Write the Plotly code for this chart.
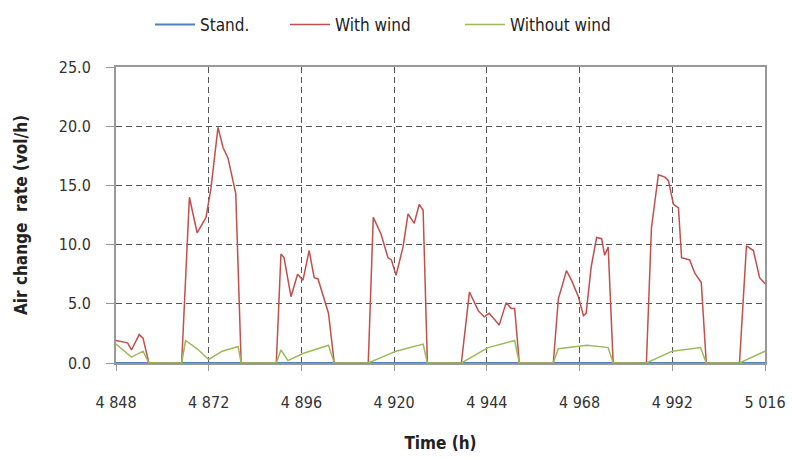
import plotly.graph_objects as go

# ---- data ----
x_ticks = [4848, 4872, 4896, 4920, 4944, 4968, 4992, 5016]
x_tick_labels = ["4 848", "4 872", "4 896", "4 920", "4 944", "4 968", "4 992", "5 016"]
y_ticks = [0, 5, 10, 15, 20, 25]
y_tick_labels = ["0.0", "5.0", "10.0", "15.0", "20.0", "25.0"]

stand_t = [4848, 5016]
stand_v = [0.0, 0.0]

wind_t = [4848, 4851, 4852, 4854, 4855, 4856.5, 4865,
          4867, 4869, 4871.3, 4872.6, 4874.4, 4875.7, 4877, 4879, 4880.4, 4889.5,
          4890.7, 4891.5, 4893.3, 4895, 4896.4, 4898, 4899.3, 4900.3, 4903, 4904.5, 4913.3,
          4914.6, 4916.6, 4918.4, 4919.3, 4920.5, 4922.3, 4923.6, 4925.2, 4926.5, 4927.5, 4928.6, 4937.4,
          4939.5, 4941.8, 4943.3, 4944.6, 4947.2, 4949, 4950.3, 4951.2, 4952.4, 4961.2,
          4962.5, 4964.6, 4965.9, 4967.7, 4969, 4969.7, 4971, 4972.4, 4973.7, 4974.5, 4975.4, 4976.7, 4985.3,
          4986.6, 4988.4, 4990.1, 4991, 4992.3, 4993.6, 4994.4, 4996.5, 4997.8, 4999.5, 5000.8, 5009.4,
          5011.2, 5013, 5014.6, 5016]
wind_v = [1.9, 1.7, 1.1, 2.4, 2.1, 0.0, 0.0,
          14.0, 11.0, 12.3, 14.8, 19.9, 18.2, 17.3, 14.3, 0.0, 0.0,
          9.2, 8.9, 5.6, 7.5, 7.0, 9.5, 7.2, 7.1, 4.2, 0.0, 0.0,
          12.3, 10.9, 8.9, 8.7, 7.4, 9.8, 12.6, 11.8, 13.4, 12.9, 0.0, 0.0,
          6.0, 4.4, 3.9, 4.2, 3.2, 5.1, 4.6, 4.6, 0.0, 0.0,
          5.4, 7.8, 7.0, 5.6, 4.0, 4.2, 8.1, 10.6, 10.5, 9.1, 9.8, 0.0, 0.0,
          11.4, 15.9, 15.7, 15.4, 13.4, 13.1, 8.9, 8.7, 7.6, 6.8, 0.0, 0.0,
          9.9, 9.5, 7.2, 6.7]

nowind_t = [4848, 4852, 4855, 4856.5, 4865, 4866, 4869, 4872, 4875.5, 4879.6, 4880.4, 4889.5,
            4890.7, 4892.5, 4896.4, 4903, 4904.5, 4913.3, 4920.5, 4927.5, 4928.6, 4937.4,
            4944.3, 4951.2, 4952.4, 4961.2, 4962.5, 4968, 4970, 4975.4, 4976.7, 4985.3,
            4992, 4999.3, 5000.8, 5009.4, 5016]
nowind_v = [1.6, 0.5, 1.0, 0.0, 0.0, 1.9, 1.2, 0.3, 1.0, 1.4, 0.0, 0.0,
            1.1, 0.2, 0.8, 1.5, 0.0, 0.0, 1.0, 1.6, 0.0, 0.0,
            1.3, 1.9, 0.0, 0.0, 1.2, 1.4, 1.5, 1.3, 0.0, 0.0,
            1.0, 1.3, 0.0, 0.0, 1.0]

FONT = "DejaVu Sans Condensed, Liberation Sans Narrow, Liberation Sans, sans-serif"

fig = go.Figure()
fig.add_trace(go.Scatter(x=stand_t, y=stand_v, mode="lines", name="Stand.", legend="legend",
                         line=dict(color="#4f81bd", width=2)))
fig.add_trace(go.Scatter(x=wind_t, y=wind_v, mode="lines", name="With wind", legend="legend2",
                         line=dict(color="#c0504d", width=1.5)))
fig.add_trace(go.Scatter(x=nowind_t, y=nowind_v, mode="lines", name="Without wind", legend="legend3",
                         line=dict(color="#9bbb59", width=1.5)))

leg_common = dict(orientation="h", xanchor="left", y=0.985, yanchor="top",
                  xref="container", yref="container",
                  font=dict(size=17, color="#222222"), itemwidth=40)

fig.update_layout(
    width=792, height=458,
    margin=dict(l=116, r=27, t=67, b=95),
    paper_bgcolor="white", plot_bgcolor="white",
    font=dict(family=FONT, size=16, color="#333333"),
    showlegend=True,
    legend=dict(x=150 / 792, **leg_common),
    legend2=dict(x=285 / 792, **leg_common),
    legend3=dict(x=460 / 792, **leg_common),
    xaxis=dict(range=[4848, 5016], tickvals=x_ticks, ticktext=x_tick_labels,
               showgrid=True, gridcolor="#555555", griddash="6px,4px", gridwidth=1,
               showline=True, linecolor="#999999", linewidth=2, mirror=True,
               ticks="outside", ticklen=6, tickcolor="#999999", automargin=False,
               ticklabelstandoff=18, zeroline=False,
               title=dict(text="<b>Time (h)</b>", font=dict(size=17, color="#222222"), standoff=26)),
    yaxis=dict(range=[0, 25], tickvals=y_ticks, ticktext=y_tick_labels,
               showgrid=True, gridcolor="#555555", griddash="6px,4px", gridwidth=1,
               showline=True, linecolor="#999999", linewidth=2, mirror=True,
               ticks="outside", ticklen=8, tickcolor="#999999", automargin=False,
               ticklabelstandoff=12, zeroline=False,
               title=dict(text="<b>Air change  rate (vol/h)</b>", font=dict(size=17, color="#222222"), standoff=27)),
)

fig.write_html("out.html")
